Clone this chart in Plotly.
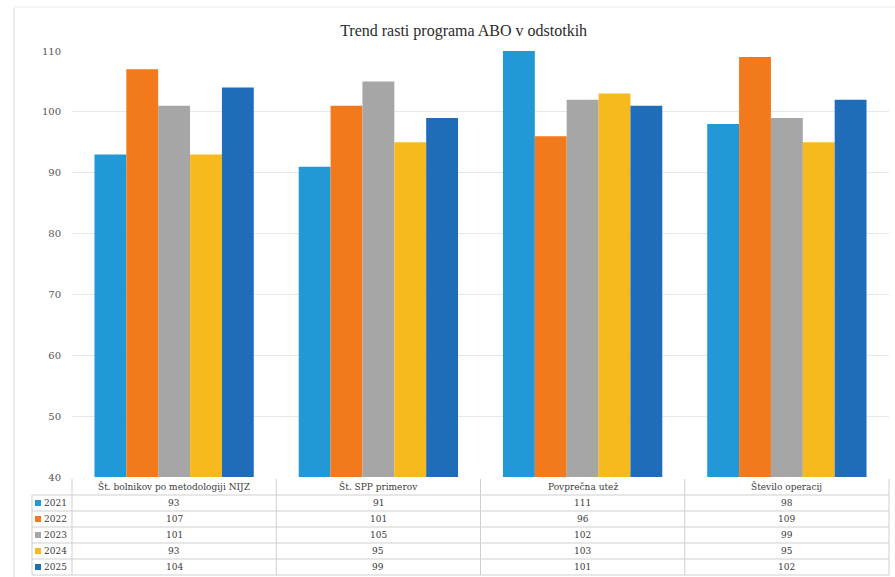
import plotly.graph_objects as go

# Growth trend of the ABO programme, in percent
categories = [
    "Št. bolnikov po metodologiji NIJZ",
    "Št. SPP primerov",
    "Povprečna utež",
    "Število operacij",
]
years = ["2021", "2022", "2023", "2024", "2025"]
values = {
    "2021": [93, 91, 111, 98],
    "2022": [107, 101, 96, 109],
    "2023": [101, 105, 102, 99],
    "2024": [93, 95, 103, 95],
    "2025": [104, 99, 101, 102],
}
colors = {
    "2021": "#2398d6",
    "2022": "#f27a1c",
    "2023": "#a6a6a6",
    "2024": "#f6b91e",
    "2025": "#1f6db8",
}
y_ticks = [40, 50, 60, 70, 80, 90, 100, 110]

W, H = 895, 577
PLOT_L, PLOT_R = 72, 889
PLOT_T, PLOT_B = 51, 477

TITLE_FONT = "Liberation Serif"
SMALL_FONT = "DejaVu Serif"
TXT = "#3a3a3a"
LINE = "#cfcfcf"


def px_x(px):
    return (px - PLOT_L) / (PLOT_R - PLOT_L)


def px_y(py):
    return (PLOT_B - py) / (PLOT_B - PLOT_T)


fig = go.Figure()
for yr in years:
    fig.add_trace(go.Bar(
        name=yr, x=categories, y=values[yr],
        marker=dict(color=colors[yr], line=dict(width=0)),
        showlegend=False,
    ))

shapes = []
annotations = []

# data table below the plot
col_w = (PLOT_R - PLOT_L) / len(categories)
head_top, head_bot = 479, 495
row_h = 16
label_left = 32
table_bot = head_bot + row_h * len(years)

for i in range(len(categories) + 1):
    x = PLOT_L + i * col_w
    shapes.append(dict(type="line", xref="paper", yref="paper",
                       x0=px_x(x), x1=px_x(x), y0=px_y(head_top), y1=px_y(table_bot),
                       line=dict(color=LINE, width=1)))
shapes.append(dict(type="line", xref="paper", yref="paper",
                   x0=px_x(label_left), x1=px_x(label_left),
                   y0=px_y(head_bot), y1=px_y(table_bot),
                   line=dict(color=LINE, width=1)))
for j in range(len(years) + 1):
    y = head_bot + j * row_h
    shapes.append(dict(type="line", xref="paper", yref="paper",
                       x0=px_x(label_left), x1=px_x(PLOT_R),
                       y0=px_y(y), y1=px_y(y),
                       line=dict(color=LINE, width=1)))

for i, cat in enumerate(categories):
    cx = PLOT_L + (i + 0.5) * col_w
    annotations.append(dict(xref="paper", yref="paper", x=px_x(cx),
                            y=px_y((head_top + head_bot) / 2), text=cat,
                            showarrow=False, xanchor="center", yanchor="middle",
                            font=dict(family=SMALL_FONT, size=9, color=TXT)))
    for j, yr in enumerate(years):
        cy = head_bot + (j + 0.5) * row_h
        annotations.append(dict(xref="paper", yref="paper", x=px_x(cx), y=px_y(cy),
                                text=str(values[yr][i]), showarrow=False,
                                xanchor="center", yanchor="middle",
                                font=dict(family=SMALL_FONT, size=9, color=TXT)))

for j, yr in enumerate(years):
    cy = head_bot + (j + 0.5) * row_h
    shapes.append(dict(type="rect", xref="paper", yref="paper",
                       x0=px_x(35), x1=px_x(41), y0=px_y(cy - 3), y1=px_y(cy + 3),
                       fillcolor=colors[yr], line=dict(width=0)))
    annotations.append(dict(xref="paper", yref="paper", x=px_x(42), y=px_y(cy),
                            text=yr, showarrow=False, xanchor="left", yanchor="middle",
                            font=dict(family=SMALL_FONT, size=9, color=TXT)))

# faint page edge
shapes.append(dict(type="line", xref="paper", yref="paper",
                   x0=px_x(14), x1=px_x(14), y0=px_y(8), y1=px_y(H),
                   line=dict(color="#d9d9d9", width=1)))
shapes.append(dict(type="line", xref="paper", yref="paper",
                   x0=px_x(14), x1=px_x(W), y0=px_y(7), y1=px_y(7),
                   line=dict(color="#ececec", width=1)))

fig.update_layout(
    width=W, height=H,
    margin=dict(l=PLOT_L, r=W - PLOT_R, t=PLOT_T, b=H - PLOT_B),
    paper_bgcolor="white", plot_bgcolor="white",
    barmode="group", bargap=0.22, bargroupgap=0,
    title=dict(text="Trend rasti programa ABO v odstotkih", x=0.518, xanchor="center",
               y=1 - 30 / H, yanchor="middle",
               font=dict(family=TITLE_FONT, size=16, color="#2b2b2b")),
    xaxis=dict(showticklabels=False, showgrid=False, zeroline=False, showline=False,
               ticks=""),
    yaxis=dict(range=[40, 110], tickvals=y_ticks, showgrid=True, gridcolor="#e8e8e8",
               gridwidth=1, zeroline=False, showline=False, ticks="",
               ticklabelstandoff=10,
               tickfont=dict(family=SMALL_FONT, size=10, color="#555555")),
    shapes=shapes,
    annotations=annotations,
)

fig.write_html("out.html")
